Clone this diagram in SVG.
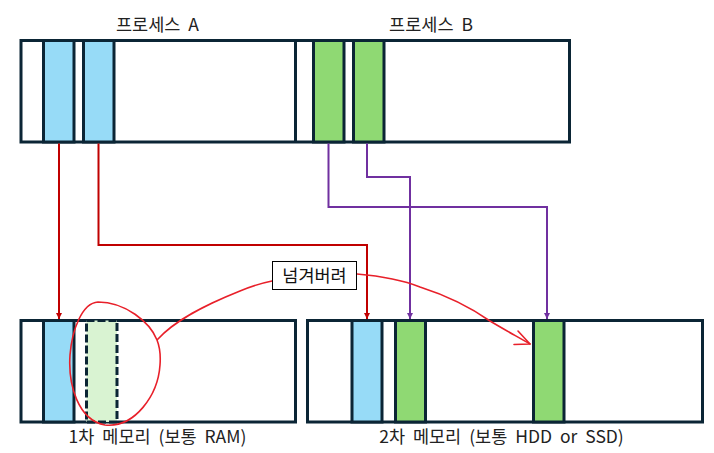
<svg xmlns="http://www.w3.org/2000/svg" width="714" height="453" viewBox="0 0 714 453">
<defs>
<style>
.box{fill:#fff;stroke:#0b2535;stroke-width:3}
.blue{fill:#97dbf7;stroke:#0b2535;stroke-width:3}
.green{fill:#8fd973;stroke:#0b2535;stroke-width:3}
.dash{fill:#d9f3d2;stroke:#0b2535;stroke-width:3;stroke-dasharray:8 3}
.sep{stroke:#0b2535;stroke-width:3}
.lbl{font-family:"Noto Sans CJK KR","Malgun Gothic",sans-serif;font-size:17.5px;word-spacing:4px;fill:#222;text-anchor:middle}
.red{fill:none;stroke:#c00000;stroke-width:2}
.pur{fill:none;stroke:#7030a0;stroke-width:2}
.hand{fill:none;stroke:#e8202a;stroke-width:1.6;stroke-linecap:round;stroke-linejoin:round}
</style>
<marker id="ar" viewBox="0 0 6 6" refX="6" refY="3" markerWidth="3" markerHeight="3" orient="auto" markerUnits="strokeWidth"><path d="M0,0L6,3L0,6z" fill="#c00000"/></marker>
<marker id="ap" viewBox="0 0 6 6" refX="6" refY="3" markerWidth="3" markerHeight="3" orient="auto" markerUnits="strokeWidth"><path d="M0,0L6,3L0,6z" fill="#7030a0"/></marker>
</defs>
<rect width="714" height="453" fill="#fff"/>

<g id="procA-label"><text class="lbl" x="157.5" y="31">프로세스 A</text></g>
<g id="procB-label"><text class="lbl" x="431" y="31">프로세스 B</text></g>

<g id="virtual-memory">
<rect class="box" x="21" y="40.5" width="548.5" height="101.5"/>
<line class="sep" x1="295.5" y1="40.5" x2="295.5" y2="142"/>
</g>
<g id="procA-page1"><rect class="blue" x="43.5" y="40.5" width="30.5" height="101.5"/></g>
<g id="procA-page2"><rect class="blue" x="83.5" y="40.5" width="30.5" height="101.5"/></g>
<g id="procB-page1"><rect class="green" x="313.5" y="40.5" width="30.5" height="101.5"/></g>
<g id="procB-page2"><rect class="green" x="353.5" y="40.5" width="30.5" height="101.5"/></g>

<g id="primary-memory">
<rect class="box" x="21" y="320.5" width="274.5" height="101.5"/>
<rect class="blue" x="43.5" y="320.5" width="30.5" height="101.5"/>
<rect class="dash" x="86.5" y="320.5" width="30.5" height="101.5"/>
<text class="lbl" x="157.5" y="443">1차 메모리 (보통 RAM)</text>
</g>

<g id="secondary-memory">
<rect class="box" x="307.5" y="320.5" width="395" height="101.5"/>
<rect class="blue" x="352" y="320.5" width="30" height="101.5"/>
<rect class="green" x="395.5" y="320.5" width="30" height="101.5"/>
<rect class="green" x="533.5" y="320.5" width="30.5" height="101.5"/>
<text class="lbl" x="501.5" y="443">2차 메모리 (보통 HDD or SSD)</text>
</g>

<g id="connectors">
<path class="red" d="M59,143.5V319" marker-end="url(#ar)"/>
<path class="red" d="M98.5,143.5V245H367V319" marker-end="url(#ar)"/>
<path class="pur" d="M328.5,143.5V207H547V319" marker-end="url(#ap)"/>
<path class="pur" d="M367,143.5V177H410V319" marker-end="url(#ap)"/>
<path class="hand" d="M157,340 C150,322 125,302 98,302 C82,303 72,330 70,355 C68,385 78,420 105,425 C135,428 158,395 160,365 C161,352 159,345 157,340 C175,320 205,305 240,291 C252,286 262,283 272,281"/>
<path class="hand" d="M357,274 C380,276 400,279 420,287 C445,295 470,307 490,321 C505,330 518,337 530,344"/>
<path class="hand" d="M518,331 L530,344 L514,344.5"/>
</g>

<g id="label-box">
<rect x="272.5" y="261.5" width="84" height="28" fill="#fff" stroke="#000" stroke-width="1"/>
<text class="lbl" x="314.5" y="281.5" style="fill:#111">넘겨버려</text>
</g>
</svg>
